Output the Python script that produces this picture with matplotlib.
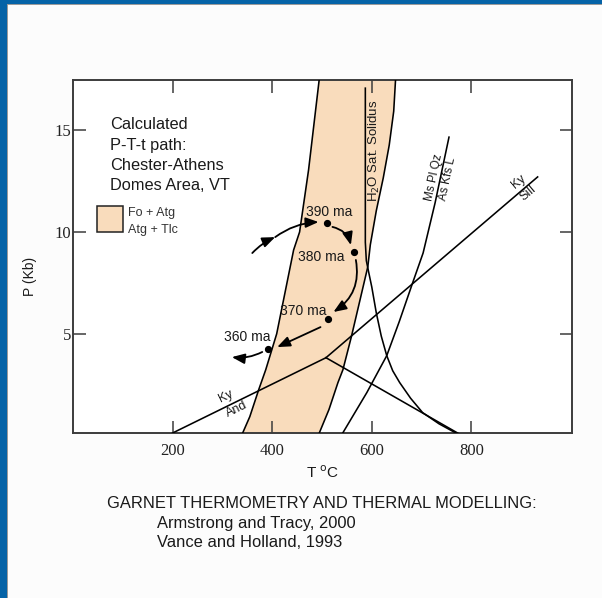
import matplotlib
matplotlib.use("Agg")
import matplotlib.pyplot as plt
from matplotlib.patches import Rectangle

# ---------------- data (T in degC, P in kbar) ----------------
band_left_T = [338, 355, 373, 387, 409, 443, 455, 473, 495]
band_left_P = [0.0, 0.95, 2.28, 3.25, 5.01, 9.12, 10.0, 13.04, 17.6]
band_right_T = [492, 514, 532, 542, 559, 592, 597, 609, 623, 635, 644, 648]
band_right_P = [0.0, 1.3, 2.62, 3.25, 4.87, 8.3, 9.37, 11.04, 12.65, 14.26, 15.92, 17.6]

solidus_T = [587, 587, 589, 594, 600, 609, 619, 630, 642, 656, 678, 702, 735, 780]
solidus_P = [17.05, 9.5, 8.6, 8.0, 7.3, 6.04, 4.9, 3.94, 3.2, 2.62, 1.85, 1.15, 0.6, 0.0]

ms_T = [538, 590, 630, 655, 682, 703, 727, 755]
ms_P = [0.0, 2.13, 3.94, 5.6, 7.51, 8.97, 11.42, 14.65]

ky_and_T = [200, 508]
ky_and_P = [0.15, 3.84]
ky_sill_T = [508, 933]
ky_sill_P = [3.84, 12.7]
and_sill_T = [508, 783]
and_sill_P = [3.84, 0.0]

ptt_T = [511, 564, 513, 392]
ptt_P = [10.44, 9.02, 5.74, 4.26]
ptt_labels = ["390 ma", "380 ma", "370 ma", "360 ma"]
ptt_label_T = [515, 499, 463, 349]
ptt_label_P = [10.98, 8.77, 6.13, 4.85]

arrow_start_T = [360, 406, 521, 568, 497, 380]
arrow_start_P = [8.97, 9.75, 10.25, 8.63, 5.34, 4.12]
arrow_end_T = [406, 493, 558, 523, 410, 319]
arrow_end_P = [9.75, 10.49, 9.36, 6.08, 4.36, 3.87]
arrow_rad = [-0.1, -0.15, -0.3, -0.33, 0.0, -0.15]

x_ticks = [200, 400, 600, 800]
y_ticks = [5, 10, 15]

# ---------------- figure ----------------
W, H = 602, 598
BG = "#FCFCFC"
BAND = "#F9DCBC"
INK = "#1A1A1A"
SANS = ["Liberation Sans", "DejaVu Sans"]
SERIF = ["Liberation Serif", "DejaVu Serif"]

fig = plt.figure(figsize=(W / 100, H / 100), dpi=100, facecolor=BG)


def px(x, y):
    return (x / W, 1 - y / H)


# blue frame (left and top)
fig.patches.append(Rectangle((0, 0), 7 / W, 1, transform=fig.transFigure,
                             facecolor="#0563A7", edgecolor="none", zorder=0))
fig.patches.append(Rectangle((0, 1 - 4 / H), 1, 4 / H, transform=fig.transFigure,
                             facecolor="#0563A7", edgecolor="none", zorder=0))
fig.patches.append(Rectangle((7 / W, 0), 1.2 / W, 1 - 4 / H, transform=fig.transFigure,
                             facecolor="#9A9A9A", edgecolor="none", zorder=0))
fig.patches.append(Rectangle((7 / W, 1 - 5.2 / H), 1, 1.2 / H, transform=fig.transFigure,
                             facecolor="#9A9A9A", edgecolor="none", zorder=0))

ax = fig.add_axes([73 / W, 1 - 433 / H, (572 - 73) / W, (433 - 80) / H])
ax.set_facecolor("white")
ax.set_xlim(0, 1002)
ax.set_ylim(0.15, 17.45)

# stability field band
poly_T = band_left_T + band_right_T[::-1]
poly_P = band_left_P + band_right_P[::-1]
ax.fill(poly_T, poly_P, color=BAND, lw=0, zorder=1)
lw = 1.15
ax.plot(band_left_T, band_left_P, color="k", lw=lw, zorder=3)
ax.plot(band_right_T, band_right_P, color="k", lw=lw, zorder=3)

# reaction curves
ax.plot(solidus_T, solidus_P, color="k", lw=lw, zorder=3)
ax.plot(ms_T, ms_P, color="k", lw=lw, zorder=3)
ax.plot(ky_and_T, ky_and_P, color="k", lw=lw, zorder=3)
ax.plot(ky_sill_T, ky_sill_P, color="k", lw=lw, zorder=3)
ax.plot(and_sill_T, and_sill_P, color="k", lw=lw, zorder=3)

# P-T-t path
ax.plot(ptt_T, ptt_P, "o", color="k", ms=4.2, zorder=5)
for lab, t, p in zip(ptt_labels, ptt_label_T, ptt_label_P):
    ax.text(t, p, lab, ha="center", va="center", fontsize=10, family=SANS,
            color=INK, zorder=6)
for t0, p0, t1, p1, r in zip(arrow_start_T, arrow_start_P, arrow_end_T,
                              arrow_end_P, arrow_rad):
    ax.annotate("", xy=(t1, p1), xytext=(t0, p0),
                arrowprops=dict(arrowstyle="-|>,head_length=0.55,head_width=0.22",
                                color="k", lw=1.3,
                                connectionstyle=f"arc3,rad={r}",
                                shrinkA=0, shrinkB=0, mutation_scale=14),
                zorder=5)

# curve labels
ax.text(606, 13.96, "H$_2$O Sat. Solidus", rotation=90, ha="center", va="center",
        fontsize=9.5, family=SANS, color=INK, zorder=6)
ax.text(726, 12.68, "Ms Pl Qz", rotation=78, ha="center", va="center",
        fontsize=8.5, family=SANS, color=INK)
ax.text(753, 12.6, "As Kfs L", rotation=78, ha="center", va="center",
        fontsize=8.5, family=SANS, color=INK)
ax.text(308, 1.92, "Ky", rotation=26, ha="center", va="center",
        fontsize=9, family=SANS, color=INK)
ax.text(329, 1.33, "And", rotation=26, ha="center", va="center",
        fontsize=9, family=SANS, color=INK)
ax.text(894, 12.44, "Ky", rotation=40, ha="center", va="center",
        fontsize=9, family=SANS, color=INK)
ax.text(914, 11.9, "Sill", rotation=40, ha="center", va="center",
        fontsize=9, family=SANS, color=INK)

# legend swatch
ax.add_patch(Rectangle((49, 9.98), 50.5, 1.3, facecolor=BAND, edgecolor="#222222",
                       lw=1.1, zorder=4))
ax.text(110, 10.93, "Fo + Atg", ha="left", va="center", fontsize=9, family=SANS,
        color="#333333")
ax.text(110, 10.1, "Atg + Tlc", ha="left", va="center", fontsize=9, family=SANS,
        color="#333333")

# axes styling
ax.set_xticks(x_ticks)
ax.set_yticks(y_ticks)
ax.tick_params(direction="in", length=9, width=1.1, color="#3C3C3C",
               top=True, right=True, labelsize=12, labelcolor="#222222")
ax.tick_params(axis="y", pad=1.5)
ax.tick_params(axis="x", pad=7)
for lbl in ax.get_xticklabels() + ax.get_yticklabels():
    lbl.set_fontfamily(SERIF)
for s in ax.spines.values():
    s.set_color("#3C3C3C")
    s.set_linewidth(1.4)

# figure texts
for i, line in enumerate(["Calculated", "P-T-t path:", "Chester-Athens",
                          "Domes Area, VT"]):
    fig.text(*px(110, 129.3 + 20.3 * i), line, ha="left", va="baseline",
             fontsize=11.8, family=SANS, color=INK)

fig.text(*px(30, 276), "P (Kb)", rotation=90, ha="center", va="center",
         fontsize=10, family=SANS, color=INK)
fig.text(*px(323, 478.3), r"T $^{\mathrm{o}}$C", ha="center", va="baseline",
         fontsize=11, family=SANS, color=INK)
fig.text(*px(107, 508.3), "GARNET THERMOMETRY AND THERMAL MODELLING:",
         ha="left", va="baseline", fontsize=11.9, family=SANS, color=INK)
fig.text(*px(157, 528.3), "Armstrong and Tracy, 2000",
         ha="left", va="baseline", fontsize=11.9, family=SANS, color=INK)
fig.text(*px(157, 547.3), "Vance and Holland, 1993",
         ha="left", va="baseline", fontsize=11.9, family=SANS, color=INK)

fig.savefig("out.png", dpi=100, facecolor=BG)
